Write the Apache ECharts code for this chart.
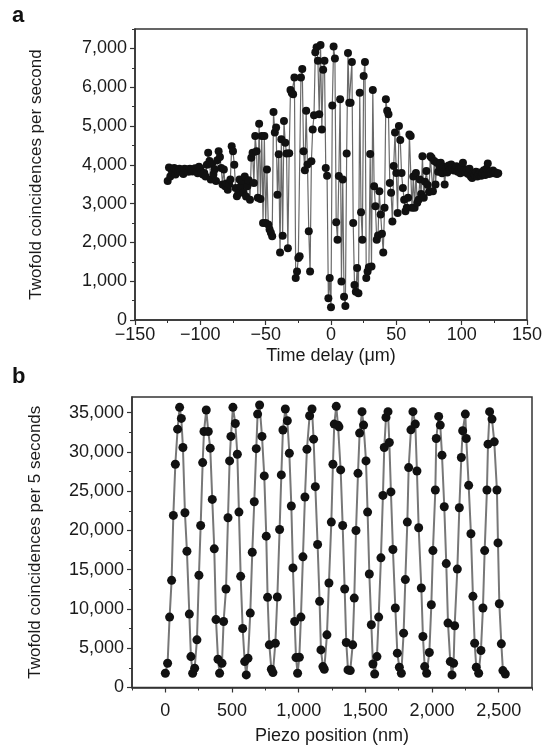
<!DOCTYPE html>
<html>
<head>
    <meta charset="utf-8">
    <title>Two-photon interference</title>
    <script src="https://cdn.jsdelivr.net/npm/echarts@6/dist/echarts.min.js"></script>
    <style>
        html, body { margin: 0; padding: 0; background: #fff; }
    </style>
</head>
<body>
    <div id="main" style="width:545px; height:748px;"></div>
    <script>
        // panel a: time delay scan, one point per micron starting at -125
        var delayStart = -125
        var delayStep = 1
        var ratesA = [
            3580, 3930, 3700, 3870, 3800, 3920, 3750, 3880, 3830, 3900,
            3820, 3870, 3760, 3900, 3850, 3880, 3820, 3900, 3860, 3830,
            3880, 3910, 3830, 3780, 3950, 3900, 3800, 3750, 3790, 3700,
            4000, 4310, 4100, 3620, 4020, 3750, 3880, 3580, 4120, 4350,
            4200, 3920, 3490, 3880, 3450, 3520, 3360, 3500, 3620, 4480,
            4350, 4000, 3400, 3190, 3260, 3620, 3450, 3580, 3280, 3700,
            3180, 3450, 3600, 3100, 4180, 4310, 3530, 4740, 4350, 3150,
            5060, 3120, 4740, 2500, 4740, 2500, 3880, 2460, 2330, 2250,
            2160, 5360, 4830, 4960, 3230, 4270, 1740, 4660, 2170, 5130,
            4570, 4290, 1850, 4300, 5930, 5850, 5820, 6250, 1080, 1250,
            1600, 1640, 6250, 6470, 4350, 3860, 5390, 4010, 2290, 1250,
            4090, 4910, 5280, 6900, 7030, 6680, 5300, 7085, 4910, 6450,
            6680, 3920, 3720, 560, 1080, 330, 5530, 7050, 6740, 2520,
            2070, 3710, 5690, 990, 3620, 600, 360, 4290, 6880, 5600,
            5600, 6650, 2500, 905, 730, 1340, 690, 5860, 2780, 2070,
            6290, 6650, 1080, 1250, 1360, 4280, 1380, 5930, 3450, 2930,
            2070, 2180, 3320, 2720, 2224, 1740, 2890, 5690, 5390, 5300,
            3530, 3280, 2540, 3970, 4830, 3790, 2760, 5000, 4640, 3790,
            3400, 3100, 2800, 2890, 3150, 4780, 4740, 2890, 3700, 2890,
            3790, 3020, 3100, 3620, 3250, 4220, 3150, 3560, 3840, 3480,
            3300, 4220, 4180, 3320, 4100, 3490, 4050, 3820, 3950, 4050,
            3780, 3950, 3490, 3900, 3800, 3980, 3880, 4010, 3920, 3850,
            3900, 3960, 3820, 3870, 3780, 3920, 4050, 3860, 3800, 3880,
            3760, 3900, 3700, 3660, 3780, 3740, 3820, 3700, 3760, 3800,
            3720, 3780, 3860, 3740, 3900, 4035, 3760, 3820, 3780, 3850,
            3780, 3800, 3760, 3780
        ]

        // panel b: piezo scan
        var piezoB = [
            0, 17, 32, 47, 60, 75, 92, 107, 120, 132,
            147, 162, 180, 192, 205, 220, 237, 252, 265, 280,
            290, 307, 322, 337, 352, 367, 380, 395, 407, 425,
            437, 455, 470, 482, 492, 507, 525, 540, 552, 565,
            580, 595, 607, 620, 637, 652, 667, 682, 692, 707,
            725, 742, 757, 767, 780, 795, 807, 825, 840, 857,
            870, 882, 900, 915, 930, 945, 957, 970, 980, 992,
            1005, 1017, 1032, 1047, 1062, 1082, 1100, 1112, 1125, 1142,
            1157, 1167, 1182, 1192, 1212, 1227, 1245, 1257, 1267, 1282,
            1295, 1302, 1315, 1330, 1345, 1357, 1370, 1387, 1405, 1417,
            1430, 1445, 1457, 1475, 1487, 1505, 1517, 1530, 1545, 1557,
            1570, 1587, 1600, 1617, 1632, 1642, 1655, 1670, 1680, 1692,
            1707, 1725, 1740, 1755, 1770, 1787, 1800, 1815, 1825, 1842,
            1857, 1875, 1887, 1900, 1920, 1932, 1945, 1960, 1980, 1995,
            2007, 2025, 2032, 2050, 2062, 2075, 2092, 2107, 2120, 2137,
            2150, 2162, 2170, 2190, 2205, 2220, 2230, 2250, 2257, 2275,
            2292, 2307, 2320, 2332, 2350, 2367, 2382, 2395, 2412, 2420,
            2432, 2450, 2467, 2487, 2495, 2505, 2520, 2532, 2550
        ]
        var countsB = [
            1810, 3090, 8970, 13650, 21920, 28440, 32900, 35680, 34270, 30570,
            22260, 17360, 9350, 3940, 1810, 2450, 6070, 14290, 20640, 28650,
            32600, 35350, 32600, 30480, 23960, 17660, 8650, 3600, 1810, 3090,
            8410, 12540, 21620, 28860, 31980, 35680, 33630, 29710, 22340, 14160,
            7520, 3300, 1600, 3730, 9480, 17230, 23660, 30420, 34820, 35980,
            31980, 26950, 19280, 11480, 5430, 2320, 1900, 5640, 11520, 20130,
            27080, 32790, 35470, 33980, 29840, 23110, 15230, 8410, 3810, 1810,
            3860, 8970, 16640, 24270, 30350, 34610, 35470, 31630, 25580, 18210,
            10970, 4790, 2660, 2320, 6710, 13310, 21070, 28440, 33550, 35810,
            33400, 33200, 27710, 20640, 12540, 5730, 2240, 2150, 5430, 11390,
            20000, 27280, 32400, 35130, 33420, 28860, 22340, 14460, 7990, 3000,
            1725, 3940, 8970, 16510, 24470, 30570, 34400, 35130, 31210, 24910,
            17570, 10120, 4370, 2580, 1810, 6920, 13740, 21070, 28010, 32820,
            35130, 33550, 27580, 20340, 12670, 6500, 2660, 1810, 4460, 10540,
            17440, 25150, 31710, 34530, 33420, 29590, 23020, 15780, 8200, 3300,
            1600, 3090, 7860, 15080, 22900, 29290, 32700, 34820, 31710, 25750,
            19580, 11610, 5640, 2580, 1810, 4710, 10120, 17440, 25150, 30990,
            35130, 34190, 31290, 25150, 18420, 10670, 5560, 2150, 1725
        ]

        // tick values
        var delayMajor = [-150, -100, -50, 0, 50, 100, 150]
        var delayMinor = [-125, -75, -25, 25, 75, 125]
        var rateMajor = [0, 1000, 2000, 3000, 4000, 5000, 6000, 7000]
        var rateMinor = [500, 1500, 2500, 3500, 4500, 5500, 6500, 7500]
        var piezoMajor = [0, 500, 1000, 1500, 2000, 2500]
        var piezoMinor = [-250, 250, 750, 1250, 1750, 2250, 2750]
        var countMajor = [0, 5000, 10000, 15000, 20000, 25000, 30000, 35000]
        var countMinor = [2500, 7500, 12500, 17500, 22500, 27500, 32500]

        var font = 'Liberation Sans, Arial, Helvetica, sans-serif'
        var ink = '#1a1a1a'
        var frame = '#333'

        var fmt = function(v) {
            var s = Math.abs(v).toLocaleString('en-US')
            return v < 0 ? '\u2212' + s : s
        }

        var pointsA = []
        for (var i = 0; i < ratesA.length; i++) {
            pointsA.push([delayStart + i * delayStep, ratesA[i]])
        }
        var pointsB = []
        for (var j = 0; j < piezoB.length; j++) {
            pointsB.push([piezoB[j], countsB[j]])
        }

        var majorAxis = function(dim, grid, min, max, ticks, margin, name, gap) {
            var ax = {
                type: 'value', gridIndex: grid, min: min, max: max,
                position: dim == 'x' ? 'bottom' : 'left',
                axisLine: {onZero: false, lineStyle: {color: frame, width: 1.5}},
                axisTick: {customValues: ticks, length: 5, lineStyle: {color: frame, width: 1.2}},
                axisLabel: {customValues: ticks, formatter: fmt, margin: margin,
                    color: ink, fontFamily: font, fontSize: 18},
                splitLine: {show: false},
                name: name, nameLocation: 'middle', nameGap: gap,
                nameTextStyle: {color: ink, fontFamily: font, fontSize: dim == 'x' ? 18 : 17}
            }
            return ax
        }
        var minorAxis = function(dim, grid, min, max, ticks) {
            return {
                type: 'value', gridIndex: grid, min: min, max: max,
                position: dim == 'x' ? 'bottom' : 'left',
                axisLine: {show: false, onZero: false},
                axisTick: {customValues: ticks, length: 3, lineStyle: {color: frame, width: 1}},
                axisLabel: {show: false},
                splitLine: {show: false}
            }
        }

        var element = document.querySelector('#main')
        var myChart = echarts.init(element, null, {renderer: 'canvas'})

        var option = {
            animation: false,
            backgroundColor: '#fff',
            grid: [
                {left: 135, right: 10, top: 29, height: 291, show: true,
                    borderColor: frame, borderWidth: 1.5},
                {left: 132, right: 13, top: 397, height: 290.5, show: true,
                    borderColor: frame, borderWidth: 1.5}
            ],
            xAxis: [
                majorAxis('x', 0, -150, 150, delayMajor, 6, 'Time delay (\u03bcm)', 27),
                minorAxis('x', 0, -150, 150, delayMinor),
                majorAxis('x', 1, -250, 2750, piezoMajor, 15, 'Piezo position (nm)', 40),
                minorAxis('x', 1, -250, 2750, piezoMinor)
            ],
            yAxis: [
                majorAxis('y', 0, 0, 7500, rateMajor, 8, 'Twofold coincidences per second', 90),
                minorAxis('y', 0, 0, 7500, rateMinor),
                majorAxis('y', 1, 0, 37000, countMajor, 8, 'Twofold coincidences per 5 seconds', 88),
                minorAxis('y', 1, 0, 37000, countMinor)
            ],
            graphic: [
                {type: 'text', left: 12, top: 5,
                    style: {text: 'a', font: 'bold 22px ' + font, fill: '#111'}},
                {type: 'text', left: 12, top: 366,
                    style: {text: 'b', font: 'bold 22px ' + font, fill: '#111'}}
            ],
            series: [
                {
                    type: 'line', xAxisIndex: 0, yAxisIndex: 0,
                    data: pointsA,
                    symbol: 'circle', symbolSize: 8,
                    itemStyle: {color: '#111'},
                    lineStyle: {color: '#6a6a6a', width: 1.2}
                },
                {
                    type: 'line', xAxisIndex: 2, yAxisIndex: 2,
                    data: pointsB,
                    symbol: 'circle', symbolSize: 9,
                    itemStyle: {color: '#111'},
                    lineStyle: {color: '#777', width: 2}
                }
            ]
        }

        myChart.setOption(option)
    </script>
</body>
</html>
